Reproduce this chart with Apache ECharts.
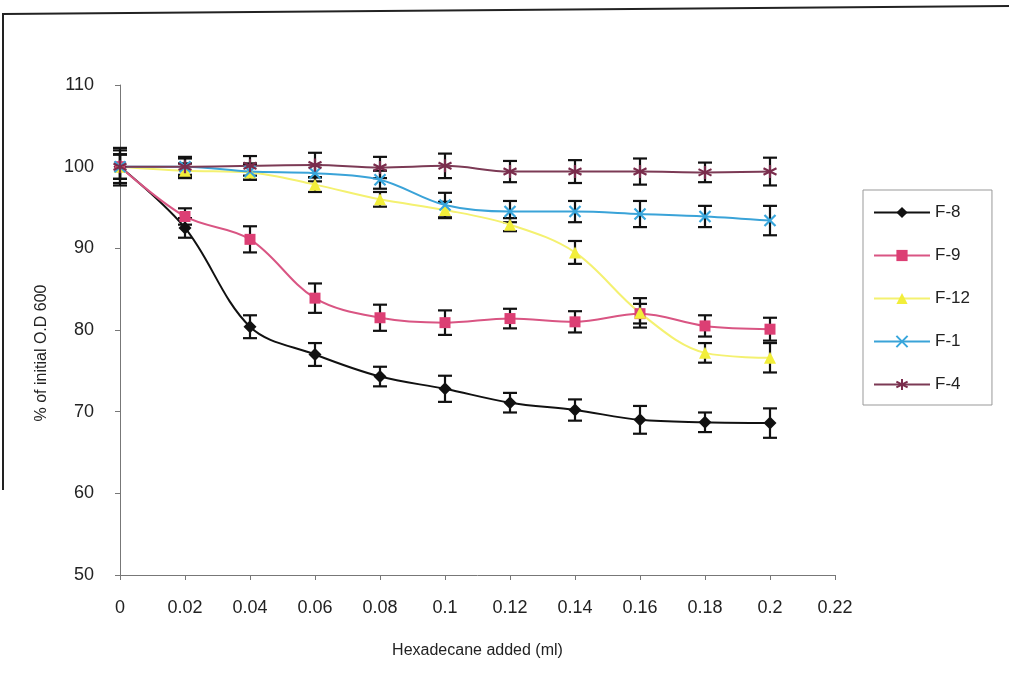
<!DOCTYPE html>
<html>
<head>
<meta charset="utf-8">
<script src="https://cdn.jsdelivr.net/npm/echarts@6/dist/echarts.min.js"></script>
<style>html,body{margin:0;padding:0;background:#fff;}#c{width:1009px;height:676px;}</style>
</head>
<body>
<div id="c"></div>
<script>
const xValues = [0, 0.02, 0.04, 0.06, 0.08, 0.1, 0.12, 0.14, 0.16, 0.18, 0.2];
const seriesNames = ['F-8', 'F-9', 'F-12', 'F-1', 'F-4'];
const f8 = [100, 92.5, 80.4, 77.0, 74.3, 72.8, 71.1, 70.2, 69.0, 68.7, 68.6];
const f8Err = [2.0, 1.2, 1.4, 1.4, 1.2, 1.6, 1.2, 1.3, 1.7, 1.2, 1.8];
const f9 = [100, 93.9, 91.1, 83.9, 81.5, 80.9, 81.4, 81.0, 82.0, 80.5, 80.1];
const f9Err = [1.5, 1.0, 1.6, 1.8, 1.6, 1.5, 1.2, 1.3, 1.2, 1.3, 1.4];
const f12 = [100, 99.5, 99.3, 97.8, 96.0, 94.7, 92.9, 89.5, 82.1, 77.2, 76.6];
const f12Err = [1.5, 0.9, 0.9, 0.9, 0.9, 1.0, 0.8, 1.4, 1.8, 1.2, 1.8];
const f1 = [100, 100, 99.4, 99.2, 98.4, 95.3, 94.5, 94.5, 94.2, 93.9, 93.4];
const f1Err = [1.5, 1.0, 1.0, 1.0, 1.1, 1.5, 1.3, 1.3, 1.6, 1.3, 1.8];
const f4 = [100, 100, 100.1, 100.2, 99.9, 100.1, 99.4, 99.4, 99.4, 99.3, 99.4];
const f4Err = [2.3, 1.2, 1.2, 1.5, 1.3, 1.5, 1.3, 1.4, 1.6, 1.2, 1.7];

const values = [f8, f9, f12, f1, f4];
const errors = [f8Err, f9Err, f12Err, f1Err, f4Err];
const colors = ['#111111', '#dc3f74', '#f2ee3a', '#38a6dc', '#7a2c4c'];
const lineColors = ['#111111', '#d95583', '#f4f170', '#3aa3d8', '#7c3a55'];
const symbols = [
  'diamond', 'rect', 'triangle',
  'path://M0,0L10,10M10,0L0,10',
  'path://M5,0L5,10M0.7,2.5L9.3,7.5M9.3,2.5L0.7,7.5'
];
const symbolSizes = [13, 11, 12, 11, 13];

const font = '"Liberation Sans", Arial, sans-serif';

function errRender(params, api) {
  const x = api.value(0), lo = api.value(1), hi = api.value(2);
  const p1 = api.coord([x, hi]);
  const p2 = api.coord([x, lo]);
  const w = 7;
  const st = { stroke: '#111', lineWidth: 2.2 };
  return {
    type: 'group',
    children: [
      { type: 'line', shape: { x1: p1[0], y1: p1[1], x2: p2[0], y2: p2[1] }, style: st },
      { type: 'line', shape: { x1: p1[0] - w, y1: p1[1], x2: p1[0] + w, y2: p1[1] }, style: st },
      { type: 'line', shape: { x1: p2[0] - w, y1: p2[1], x2: p2[0] + w, y2: p2[1] }, style: st }
    ]
  };
}

const series = [];
seriesNames.forEach((name, i) => {
  series.push({
    name: name + ' err',
    type: 'custom',
    renderItem: errRender,
    z: 1,
    silent: true,
    data: xValues.map((x, j) => [x, values[i][j] - errors[i][j], values[i][j] + errors[i][j]])
  });
});
seriesNames.forEach((name, i) => {
  const isPath = i >= 3;
  series.push({
    name: name,
    type: 'line',
    smooth: 0.35,
    z: 3,
    symbol: symbols[i],
    symbolSize: symbolSizes[i],
    showAllSymbol: true,
    lineStyle: { color: lineColors[i], width: 2 },
    itemStyle: isPath
      ? { color: colors[i], borderColor: colors[i], borderWidth: 2.2 }
      : { color: colors[i], borderWidth: 0 },
    data: xValues.map((x, j) => [x, values[i][j]])
  });
});

const chart = echarts.init(document.getElementById('c'), null, { renderer: 'canvas' });
chart.setOption({
  backgroundColor: '#ffffff',
  animation: false,
  grid: { left: 120, right: 174, top: 85, bottom: 101 },
  xAxis: {
    type: 'value',
    min: 0, max: 0.22, interval: 0.02,
    name: 'Hexadecane added (ml)',
    nameLocation: 'middle',
    nameGap: 68,
    nameTextStyle: { fontFamily: font, fontSize: 16, color: '#222' },
    axisLine: { lineStyle: { color: '#777', width: 1 } },
    axisTick: { lineStyle: { color: '#777' }, length: 5 },
    splitLine: { show: false },
    axisLabel: {
      margin: 24,
      fontFamily: font, fontSize: 18, color: '#222',
      formatter: v => String(+v.toFixed(2))
    }
  },
  yAxis: {
    type: 'value',
    min: 50, max: 110, interval: 10,
    name: '% of initial O.D 600',
    nameLocation: 'middle',
    nameGap: 70,
    nameTextStyle: { fontFamily: font, fontSize: 16, color: '#222', padding: [0, 46, 0, 0] },
    axisLine: { show: true, lineStyle: { color: '#777', width: 1 } },
    axisTick: { show: true, lineStyle: { color: '#777' }, length: 5 },
    splitLine: { show: false },
    axisLabel: { margin: 26, fontFamily: font, fontSize: 18, color: '#222' }
  },
  legend: {
    data: seriesNames,
    orient: 'vertical',
    left: 863,
    top: 190,
    padding: [14, 22, 12, 10],
    itemWidth: 56,
    itemHeight: 14,
    itemGap: 26,
    borderColor: '#999',
    borderWidth: 1,
    textStyle: { fontFamily: font, fontSize: 17, color: '#222' }
  },
  graphic: [
    { type: 'line', shape: { x1: 3, y1: 14, x2: 1009, y2: 6 }, style: { stroke: '#222', lineWidth: 2 } },
    { type: 'line', shape: { x1: 3, y1: 13, x2: 3, y2: 490 }, style: { stroke: '#222', lineWidth: 2 } }
  ],
  series: series
});
</script>
</body>
</html>
